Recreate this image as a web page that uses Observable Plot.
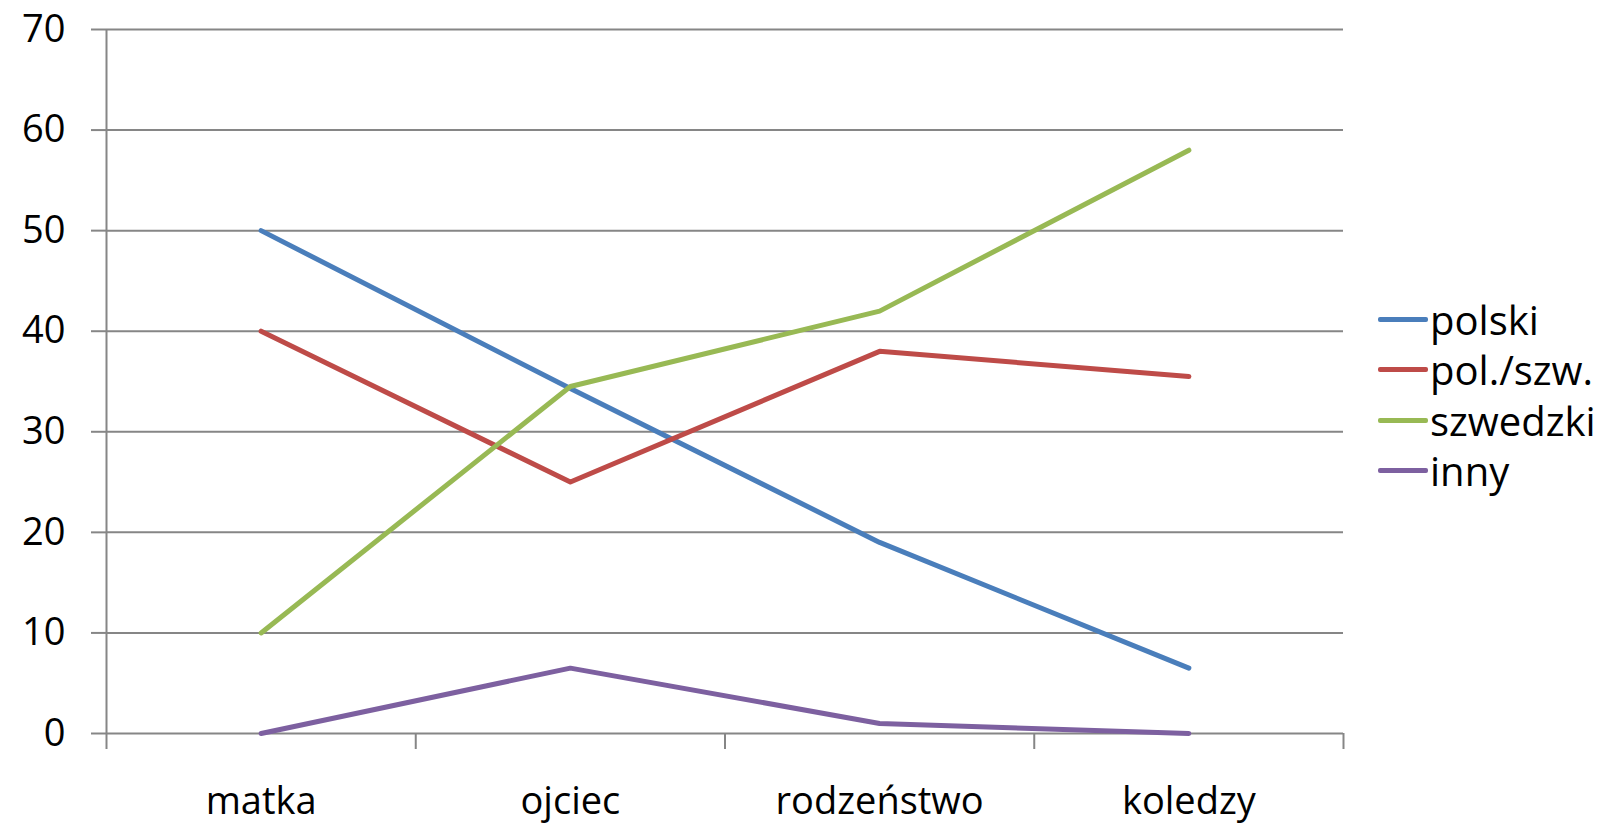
<!DOCTYPE html>
<html>
<head>
<meta charset="utf-8">
<script src="https://cdn.jsdelivr.net/npm/d3@7"></script>
<script src="https://cdn.jsdelivr.net/npm/@observablehq/plot@0.6"></script>
<style>
  html, body { margin: 0; padding: 0; background: #fff; }
  #wrap { position: relative; width: 1610px; height: 824px; font-family: "Open Sans", Lato, sans-serif; }
  #legend { position: absolute; left: 1378px; top: 294px; }
  .row { display: flex; align-items: center; height: 50.5px; font-size: 40px; color: #000; }
  .sw { width: 50px; height: 5px; border-radius: 2px; margin-right: 2px; }
</style>
</head>
<body>
<div id="wrap"></div>
<script>
const categories = ["matka", "ojciec", "rodzeństwo", "koledzy"];
const seriesNames = ["polski", "pol./szw.", "szwedzki", "inny"];
const polski = [50, 34.3, 19, 6.5];
const polSzw = [40, 25, 38, 35.5];
const szwedzki = [10, 34.5, 42, 58];
const inny = [0, 6.5, 1, 0];
const colors = ["#4a7ebb", "#be4b48", "#98b954", "#7d60a0"];
const yTicks = [0, 10, 20, 30, 40, 50, 60, 70];

const seriesValues = [polski, polSzw, szwedzki, inny];
const rows = [];
seriesNames.forEach((s, si) => {
  seriesValues[si].forEach((v, i) => rows.push({series: s, i, value: v}));
});
const centers = categories.map((_, i) => i);
const bounds = [...categories.map((_, i) => i - 0.5), categories.length - 0.5];

const font = "'Open Sans', Lato, sans-serif";
const chart = Plot.plot({
  width: 1610,
  height: 824,
  marginLeft: 106,
  marginRight: 267,
  marginTop: 29,
  marginBottom: 91,
  style: {fontFamily: font, fontSize: "38px", color: "#000", background: "#fff"},
  x: {type: "linear", domain: [-0.5, categories.length - 0.5]},
  y: {domain: [0, 70]},
  color: {domain: seriesNames, range: colors},
  marks: [
    Plot.gridY(yTicks, {stroke: "#868686", strokeOpacity: 1, strokeWidth: 2}),
    Plot.ruleX([bounds[0]], {y1: 0, y2: 70, stroke: "#868686", strokeWidth: 2}),
    Plot.axisY(yTicks, {tickSize: 15, tickPadding: 26, stroke: "#868686", strokeWidth: 2, label: null, fontSize: 38, fill: "#000"}),
    Plot.axisX(bounds, {tickSize: 16, tickFormat: () => "", stroke: "#868686", strokeWidth: 2, label: null}),
    Plot.axisX(centers, {tickSize: 0, tickPadding: 54, tickFormat: (d) => categories[d], label: null, fontSize: 38, fill: "#000"}),
    Plot.line(rows, {x: "i", y: "value", z: "series", stroke: "series", strokeWidth: 5, strokeLinejoin: "round", strokeLinecap: "round"})
  ]
});
const wrap = document.getElementById("wrap");
wrap.appendChild(chart);
const legend = document.createElement("div");
legend.id = "legend";
seriesNames.forEach((s, i) => {
  const r = document.createElement("div");
  r.className = "row";
  const sw = document.createElement("div");
  sw.className = "sw";
  sw.style.background = colors[i];
  const t = document.createElement("span");
  t.textContent = s;
  r.appendChild(sw); r.appendChild(t);
  legend.appendChild(r);
});
wrap.appendChild(legend);
</script>
</body>
</html>
